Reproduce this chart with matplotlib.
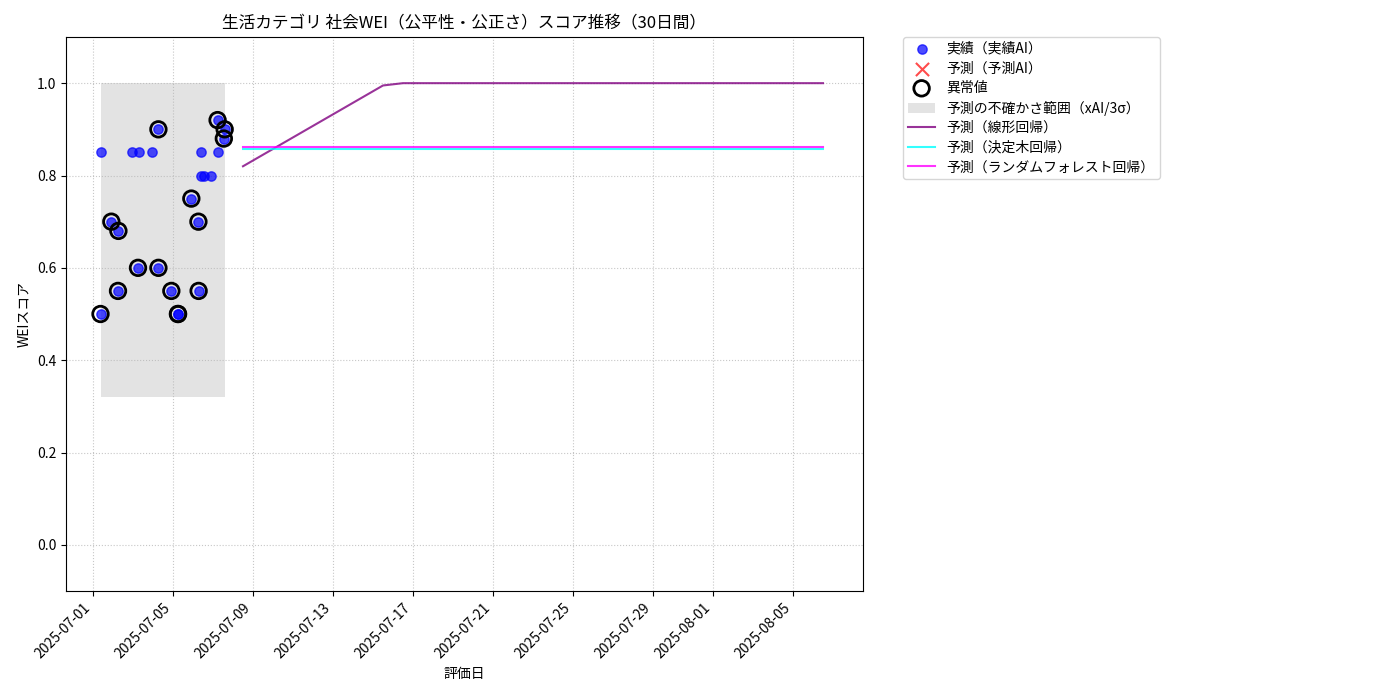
import matplotlib
matplotlib.use("Agg")
import matplotlib.pyplot as plt
import matplotlib.dates as mdates
import pandas as pd
import numpy as np

plt.rcParams['font.family'] = ['Noto Sans CJK JP', 'DejaVu Sans']

# actual points
actual_dates = [
    "2025-07-01 09:00", "2025-07-01 10:00", "2025-07-01 22:00", "2025-07-02 06:00",
    "2025-07-02 06:30", "2025-07-02 23:00", "2025-07-03 06:00", "2025-07-03 07:00",
    "2025-07-03 23:00", "2025-07-04 06:30", "2025-07-04 06:30", "2025-07-04 22:00",
    "2025-07-05 06:00", "2025-07-05 06:00", "2025-07-05 22:00", "2025-07-06 06:30",
    "2025-07-06 06:45", "2025-07-06 10:00", "2025-07-06 09:36", "2025-07-06 13:40",
    "2025-07-06 22:00", "2025-07-07 05:30", "2025-07-07 06:30", "2025-07-07 13:00",
    "2025-07-07 14:00",
]
actual_values = [
    0.50, 0.85, 0.70, 0.55,
    0.68, 0.85, 0.60, 0.85,
    0.85, 0.60, 0.90, 0.55,
    0.50, 0.50, 0.75, 0.70,
    0.55, 0.85, 0.80, 0.80,
    0.80, 0.92, 0.85, 0.88,
    0.90,
]
outlier_flags = [
    1, 0, 1, 1,
    1, 0, 1, 0,
    0, 1, 1, 1,
    1, 1, 1, 1,
    1, 0, 0, 0,
    0, 1, 0, 1,
    1,
]

band_low = 0.32
band_high = 1.0

pred_start = "2025-07-08 12:00"
pred_days = 30
linear_values = [0.82, 0.845, 0.87, 0.895, 0.92, 0.945, 0.97, 0.995] + [1.0] * 22
tree_values = [0.858] * 30
forest_values = [0.861] * 30

ad = pd.to_datetime(actual_dates)
av = np.array(actual_values)
of = np.array(outlier_flags, dtype=bool)
pdates = pd.date_range(pred_start, periods=pred_days, freq="D")

fig = plt.figure(figsize=(14, 7), dpi=100)
ax = fig.add_axes([66/1400, 1-591/700, (863-66)/1400, (591-37)/700])

ax.scatter(ad, av, color='blue', alpha=0.7, s=45, label='実績（実績AI）', zorder=3)
ax.scatter([], [], color='red', marker='x', alpha=0.7, s=90, label='予測（予測AI）')
ax.scatter(ad[of], av[of], facecolors='none', edgecolors='black', s=125, linewidths=2,
           label='異常値', zorder=4)
ax.fill_between([ad.min(), ad.max()], band_low, band_high, color='gray', alpha=0.22,
                linewidth=0, label='予測の不確かさ範囲（xAI/3σ）')
ax.plot(pdates, linear_values, color='purple', alpha=0.8, lw=1.5, label='予測（線形回帰）')
ax.plot(pdates, tree_values, color='cyan', alpha=0.8, lw=1.5, label='予測（決定木回帰）')
ax.plot(pdates, forest_values, color='magenta', alpha=0.8, lw=1.5, label='予測（ランダムフォレスト回帰）')

ax.set_ylim(-0.1, 1.1)
ax.set_xlim(pd.Timestamp("2025-06-29 15:36"), pd.Timestamp("2025-08-08 12:00"))
ax.xaxis.set_major_locator(mdates.AutoDateLocator())
ax.xaxis.set_major_formatter(mdates.DateFormatter('%Y-%m-%d'))
plt.setp(ax.get_xticklabels(), rotation=45, ha='right')
ax.grid(True, linestyle=':', alpha=0.7)
ax.set_title('生活カテゴリ 社会WEI（公平性・公正さ）スコア推移（30日間）', fontsize=12)
ax.set_xlabel('評価日')
ax.set_ylabel('WEIスコア')
ax.legend(loc='upper left', bbox_to_anchor=(1.05, 1), borderaxespad=0.,
          labelspacing=0.4, borderpad=0.35)

fig.savefig('out.png', dpi=100)
